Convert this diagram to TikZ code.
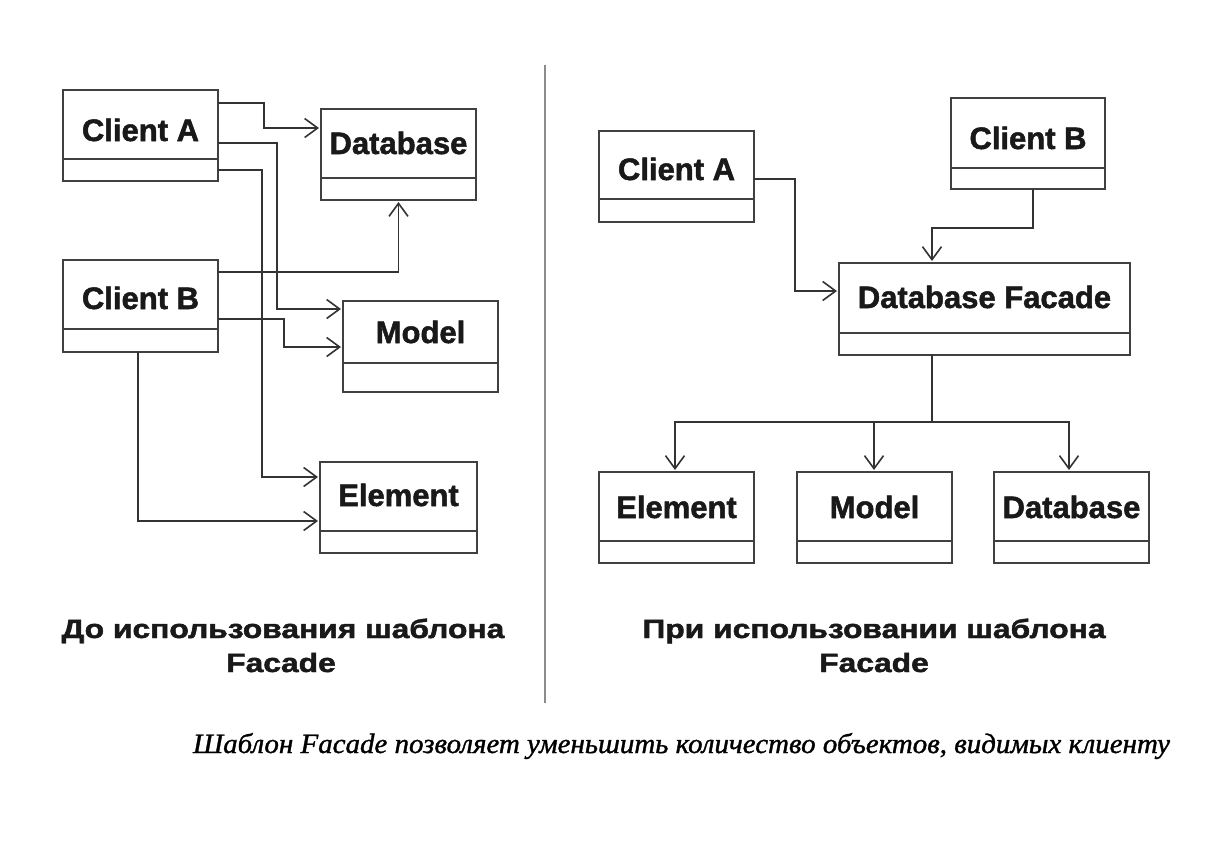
\documentclass[tikz,border=0pt]{standalone}
\usepackage{fontspec}
\usepackage{graphicx}
\setmainfont{Liberation Sans}[BoldFeatures={FakeBold=1.6}]
\newfontfamily\capfont{Liberation Serif}[ItalicFeatures={FakeBold=1.2}]
\usetikzlibrary{arrows.meta}
\tikzset{
 x=1pt, y=-1pt,
 ubx/.style={draw=black!75, line width=1.4pt, inner sep=0pt, outer sep=0pt},
 ubl/.style={draw=black!75, line width=1.4pt},
 utx/.style={font=\fontsize{31}{31}\selectfont\bfseries, text=black!90, inner sep=0pt},
 conn/.style={draw=black!80, line width=1.6pt, -{Straight Barb[length=13pt,width=19pt]}, shorten >=2pt},
 plainline/.style={draw=black!80, line width=1.6pt},
 ttl/.style={font=\fontsize{26.5}{26.5}\selectfont\bfseries, text=black!90, inner sep=0pt, anchor=base},
}
\newcommand\umlbox[8]{%
 \node[ubx, minimum width=#4pt, minimum height=#6pt, anchor=north west] (#1) at (#2,#3) {};
 \draw[ubl] ([yshift=-#5pt]#1.north west) -- ([yshift=-#5pt]#1.north east);
 \node[utx, anchor=base] (#1-t) at ([yshift=-#8pt]#1.north) {#7};
}
\begin{document}
\begin{tikzpicture}
\useasboundingbox[fill=white] (0,0) rectangle (1220,865);
% left boxes
\umlbox{lca}{63}{90}{155}{69}{91}{Client A}{51}
\umlbox{ldb}{321}{109}{155}{69}{91}{Database}{45}
\umlbox{lcb}{63}{260}{155}{69}{92}{Client B}{49}
\umlbox{lmd}{343}{301}{155}{62}{91}{Model}{42}
\umlbox{lel}{320}{462}{157}{69}{91}{Element}{44}
% right boxes
\umlbox{rca}{599}{131}{155}{68}{91}{Client A}{49}
\umlbox{rcb}{951}{98}{154}{70}{91}{Client B}{51}
\umlbox{rfc}{839}{263}{291}{70}{92}{Database Facade}{45}
\umlbox{rel}{599}{472}{155}{69}{91}{Element}{46}
\umlbox{rmd}{797}{472}{155}{69}{91}{Model}{46}
\umlbox{rdb}{994}{472}{155}{69}{91}{Database}{46}
% left connectors
\draw[conn] (lca.east |- 0,103) -| (264,128) -- (ldb.west |- 0,128);
\draw[conn] (lca.east |- 0,143) -| (277,309) -- (lmd.west |- 0,309);
\draw[conn] (lca.east |- 0,170) -| (262,477) -- (lel.west |- 0,477);
\draw[conn] (lcb.east |- 0,272) -| (ldb.south);
\draw[conn] (lcb.east |- 0,319) -| (284,347) -- (lmd.west |- 0,347);
\draw[conn] (lcb.south -| 138,0) |- (lel.west |- 0,521);
% right connectors
\draw[conn] (rca.east |- 0,179) -| (795,291) -- (rfc.west |- 0,291);
\draw[conn] (rcb.south -| 1033,0) |- (932,228) -- (rfc.north -| 932,0);
\coordinate (jn) at (932,422);
\draw[plainline] (rfc.south -| 932,0) -- (jn);
\draw[conn] (jn) -| (rel.north -| 675,0);
\draw[conn] (jn) -| (rmd.north -| 874,0);
\draw[conn] (jn) -| (rdb.north -| 1069,0);
% separator
\draw[draw=black!45, line width=2pt] (545,65) -- (545,703);
% titles
\node[ttl] (lt1) at (283,638) {\scalebox{1.2}[1]{До использования шаблона}};
\node[ttl] (lt2) at (281,672) {\scalebox{1.2}[1]{Facade}};
\node[ttl] (rt1) at (874,638) {\scalebox{1.2}[1]{При использовании шаблона}};
\node[ttl] (rt2) at (874,672) {\scalebox{1.2}[1]{Facade}};
% caption
\node[anchor=base, inner sep=0pt] (cap) at (681.5,753) {\resizebox{977pt}{\height}{\capfont\itshape\fontsize{28}{28}\selectfont Шаблон Facade позволяет уменьшить количество объектов, видимых клиенту}};
\end{tikzpicture}
\end{document}
